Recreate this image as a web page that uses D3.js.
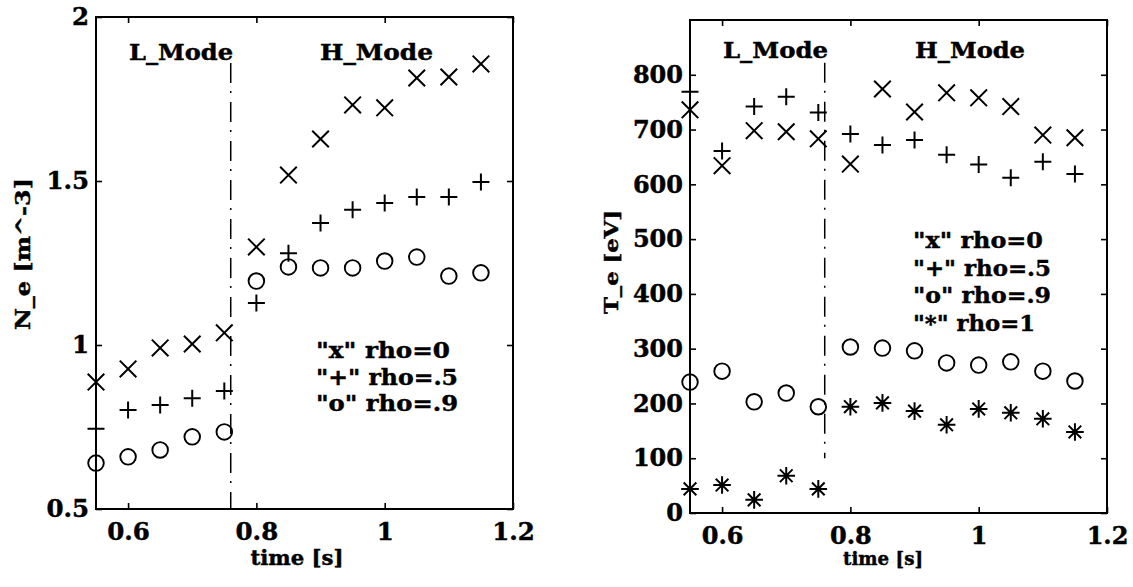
<!DOCTYPE html>
<html>
<head>
<meta charset="utf-8">
<script src="https://cdn.jsdelivr.net/npm/d3@7"></script>
<style>
  html, body { margin: 0; padding: 0; background: #fff; }
  svg { display: block; }
  text { font-family: "DejaVu Serif", serif; font-weight: bold; fill: #000; stroke: #000; stroke-width: 0.45px; }
</style>
</head>
<body>
<svg id="chart" width="1133" height="587"></svg>
<script>
// ---------------- data ----------------
const times = [0.55, 0.6, 0.65, 0.7, 0.75, 0.8, 0.85, 0.9, 0.95, 1.0, 1.05, 1.1, 1.15];

// Left panel: electron density N_e
const neRho0  = [0.887, 0.927, 0.991, 1.003, 1.037, 1.299, 1.518, 1.628, 1.732, 1.723, 1.814, 1.817, 1.857];
const neRho05 = [0.745, 0.802, 0.817, 0.838, 0.860, 1.128, 1.280, 1.372, 1.412, 1.433, 1.451, 1.451, 1.497];
const neRho09 = [0.640, 0.659, 0.680, 0.720, 0.735, 1.195, 1.238, 1.235, 1.235, 1.256, 1.268, 1.210, 1.220];

// Right panel: electron temperature T_e
const teRho0  = [736, 634, 698, 696, 683, 637, 774, 732, 767, 758, 742, 690, 685];
const teRho05 = [769, 661, 742, 760, 731, 692, 672, 681, 654, 636, 612, 641, 619];
const teRho09 = [239, 259, 203, 219, 194, 303, 301, 296, 274, 270, 276, 259, 241];
const teRho1  = [44, 51, 24, 68, 44, 194, 201, 186, 161, 190, 183, 172, 148];

const xTicks = [0.6, 0.8, 1, 1.2];
const xTickLabels = ["0.6", "0.8", "1", "1.2"];
const neTicks = [0.5, 1, 1.5, 2];
const neTickLabels = ["0.5", "1", "1.5", "2"];
const teTicks = [0, 100, 200, 300, 400, 500, 600, 700, 800];
const teTickLabels = ["0", "100", "200", "300", "400", "500", "600", "700", "800"];

const transitionTime = 0.76;
const neLegend = ['"x" rho=0', '"+" rho=.5', '"o" rho=.9'];
const teLegend = ['"x" rho=0', '"+" rho=.5', '"o" rho=.9', '"*" rho=1'];
const modeLabels = ["L_Mode", "H_Mode"];

// ---------------- layout ----------------
const svg = d3.select("#chart");

const panels = [
  {
    box: {left: 96, right: 513, top: 17, bottom: 509},
    xDomain: [0.55, 1.2], yDomain: [0.5, 2],
    yTicks: neTicks, yTickLabels: neTickLabels,
    series: [
      {values: neRho0, marker: "x"},
      {values: neRho05, marker: "+"},
      {values: neRho09, marker: "o"}
    ],
    lineSpan: [0.5, 1.86],
    yTitle: "N_e [m^-3]", yTitlePos: [22, 254], yTitleLen: 152,
    xTitlePos: [297, 565], xTitleLen: 93,
    legend: neLegend, legendPos: [316, 358], legendStep: 26.5,
    legendLens: [134, 142, 142],
    modePos: [[129, 60], [320, 60]], modeLens: [104, 113],
    fontTick: 24.5, fontTitle: 21, fontLegend: 22, fontMode: 22
  },
  {
    box: {left: 690, right: 1107, top: 20, bottom: 513},
    xDomain: [0.55, 1.2], yDomain: [0, 900],
    yTicks: teTicks, yTickLabels: teTickLabels,
    series: [
      {values: teRho0, marker: "x"},
      {values: teRho05, marker: "+"},
      {values: teRho09, marker: "o"},
      {values: teRho1, marker: "*"}
    ],
    lineSpan: [100, 822],
    yTitle: "T_e [eV]", yTitlePos: [611, 262], yTitleLen: 104,
    xTitlePos: [883, 565], xTitleLen: 80,
    legend: teLegend, legendPos: [913, 248], legendStep: 27.5,
    legendLens: [130, 138, 138, 122],
    modePos: [[723, 58], [915, 58]], modeLens: [105, 110],
    fontTick: 24, fontTitle: 19, fontLegend: 22, fontMode: 22
  }
];

function markerPath(type, h) {
  const p = d3.path();
  if (type === "x") {
    p.moveTo(-h, -h); p.lineTo(h, h);
    p.moveTo(-h, h); p.lineTo(h, -h);
  } else if (type === "+") {
    p.moveTo(-h, 0); p.lineTo(h, 0);
    p.moveTo(0, -h); p.lineTo(0, h);
  } else if (type === "*") {
    const d = h * 0.72;
    p.moveTo(-h, 0); p.lineTo(h, 0);
    p.moveTo(0, -h); p.lineTo(0, h);
    p.moveTo(-d, -d); p.lineTo(d, d);
    p.moveTo(-d, d); p.lineTo(d, -d);
  }
  return p.toString();
}

panels.forEach(P => {
  const b = P.box;
  const x = d3.scaleLinear().domain(P.xDomain).range([b.left, b.right]);
  const y = d3.scaleLinear().domain(P.yDomain).range([b.bottom, b.top]);
  const g = svg.append("g");

  // axes (ticks pointing inward) on all four sides
  const tickLen = 6;
  const bottomAx = d3.axisBottom(x).tickValues(xTicks).tickSize(-tickLen).tickPadding(14)
    .tickFormat((d, i) => xTickLabels[i]);
  const topAx = d3.axisTop(x).tickValues(xTicks).tickSize(-tickLen).tickFormat("");
  const leftAx = d3.axisLeft(y).tickValues(P.yTicks).tickSize(-tickLen).tickPadding(7)
    .tickFormat((d, i) => P.yTickLabels[i]);
  const rightAx = d3.axisRight(y).tickValues(P.yTicks).tickSize(-tickLen).tickFormat("");

  const axG = [
    g.append("g").attr("transform", `translate(0,${b.bottom})`).call(bottomAx),
    g.append("g").attr("transform", `translate(0,${b.top})`).call(topAx),
    g.append("g").attr("transform", `translate(${b.left},0)`).call(leftAx),
    g.append("g").attr("transform", `translate(${b.right},0)`).call(rightAx)
  ];
  axG.forEach(a => {
    a.select(".domain").remove();
    a.selectAll(".tick line").attr("stroke", "#000").attr("stroke-width", 1.6);
    a.selectAll(".tick text")
      .style("font-family", '"DejaVu Serif", serif')
      .style("font-weight", "bold")
      .style("font-size", P.fontTick + "px")
      .attr("fill", "#000");
  });

  // frame
  g.append("rect")
    .attr("x", b.left).attr("y", b.top)
    .attr("width", b.right - b.left).attr("height", b.bottom - b.top)
    .attr("fill", "none").attr("stroke", "#000").attr("stroke-width", 2);

  // L/H transition line
  g.append("line")
    .attr("x1", x(transitionTime)).attr("x2", x(transitionTime))
    .attr("y1", y(P.lineSpan[1])).attr("y2", y(P.lineSpan[0]))
    .attr("stroke", "#000").attr("stroke-width", 1.5)
    .attr("stroke-dasharray", "20,8,2,9");

  // series markers
  P.series.forEach(s => {
    const pts = times.map((t, i) => ({t, v: s.values[i]}));
    if (s.marker === "o") {
      g.selectAll(null).data(pts).enter().append("circle")
        .attr("cx", d => x(d.t)).attr("cy", d => y(d.v)).attr("r", 7.8)
        .attr("fill", "none").attr("stroke", "#000").attr("stroke-width", 1.9);
    } else {
      const h = s.marker === "+" ? 8.5 : (s.marker === "x" ? 8.3 : 8.8);
      g.selectAll(null).data(pts).enter().append("path")
        .attr("transform", d => `translate(${x(d.t)},${y(d.v)})`)
        .attr("d", markerPath(s.marker, h))
        .attr("fill", "none").attr("stroke", "#000").attr("stroke-width", 2);
    }
  });

  // mode labels
  modeLabels.forEach((m, i) => {
    g.append("text").attr("x", P.modePos[i][0]).attr("y", P.modePos[i][1])
      .attr("textLength", P.modeLens[i]).attr("lengthAdjust", "spacingAndGlyphs")
      .style("font-size", P.fontMode + "px").text(m);
  });

  // legend
  P.legend.forEach((l, i) => {
    g.append("text").attr("x", P.legendPos[0]).attr("y", P.legendPos[1] + i * P.legendStep)
      .attr("textLength", P.legendLens[i]).attr("lengthAdjust", "spacingAndGlyphs")
      .style("font-size", P.fontLegend + "px").text(l);
  });

  // axis titles
  g.append("text").attr("x", P.xTitlePos[0] - P.xTitleLen / 2).attr("y", P.xTitlePos[1])
    .attr("textLength", P.xTitleLen).attr("lengthAdjust", "spacingAndGlyphs")
    .style("font-size", P.fontTitle + "px").text("time [s]");
  g.append("text")
    .attr("transform", `translate(${P.yTitlePos[0]},${P.yTitlePos[1]}) rotate(-90)`)
    .attr("x", -P.yTitleLen / 2)
    .attr("textLength", P.yTitleLen).attr("lengthAdjust", "spacingAndGlyphs")
    .attr("dominant-baseline", "central")
    .style("font-size", P.fontTitle + "px").text(P.yTitle);
});
</script>
</body>
</html>
